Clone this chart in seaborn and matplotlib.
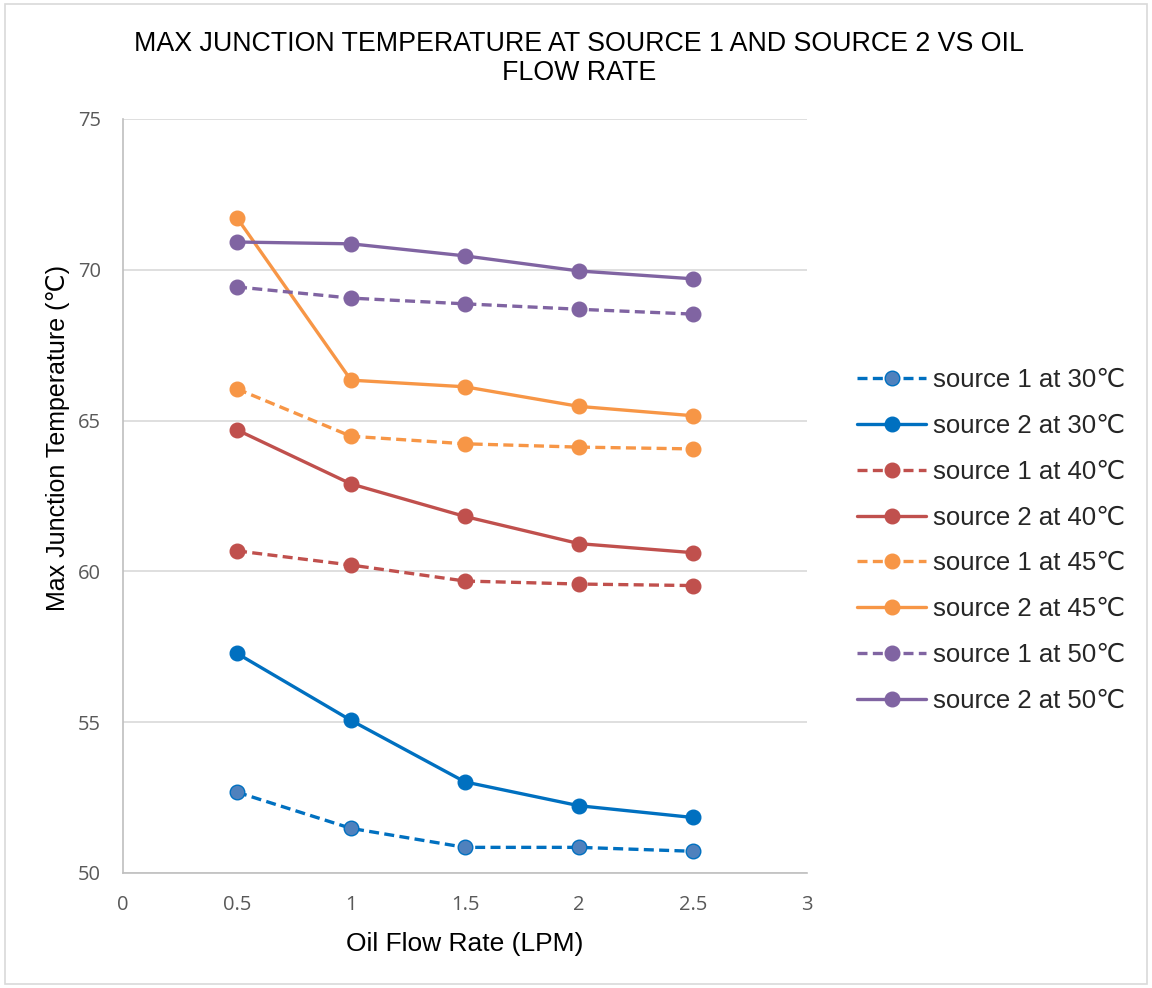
import matplotlib
matplotlib.use("Agg")
import matplotlib.pyplot as plt
import seaborn as sns
import pandas as pd
from matplotlib.patches import Rectangle

flow_rate = [0.5, 1, 1.5, 2, 2.5]

s1_30 = [52.68, 51.48, 50.85, 50.85, 50.72]
s2_30 = [57.28, 55.06, 53.02, 52.23, 51.84]
s1_40 = [60.68, 60.21, 59.68, 59.58, 59.53]
s2_40 = [64.69, 62.90, 61.82, 60.92, 60.62]
s1_45 = [66.05, 64.48, 64.23, 64.12, 64.06]
s2_45 = [71.72, 66.34, 66.12, 65.47, 65.16]
s1_50 = [69.43, 69.06, 68.87, 68.69, 68.53]
s2_50 = [70.92, 70.86, 70.46, 69.96, 69.70]

series_names = [
    "source 1 at 30℃", "source 2 at 30℃",
    "source 1 at 40℃", "source 2 at 40℃",
    "source 1 at 45℃", "source 2 at 45℃",
    "source 1 at 50℃", "source 2 at 50℃",
]
series_values = [s1_30, s2_30, s1_40, s2_40, s1_45, s2_45, s1_50, s2_50]

colors = ["#0070C0", "#0070C0", "#C0504D", "#C0504D",
          "#F79646", "#F79646", "#8064A2", "#8064A2"]
face_colors = ["#4F81BD", "#0070C0", "#C0504D", "#C0504D",
               "#F79646", "#F79646", "#8064A2", "#8064A2"]

x_ticks = [0, 0.5, 1, 1.5, 2, 2.5, 3]
x_tick_labels = ["0", "0.5", "1", "1.5", "2", "2.5", "3"]
y_ticks = [50, 55, 60, 65, 70, 75]

sns.set_theme(style="white")
plt.rcParams["font.family"] = ["Liberation Sans", "DejaVu Sans"]

fig = plt.figure(figsize=(11.52, 9.88), dpi=100)
ax = fig.add_axes([0.1068, 0.1164, 0.7005 - 0.1068, 0.8796 - 0.1164])

for name, vals, c, fc in zip(series_names, series_values, colors, face_colors):
    df = pd.DataFrame({"flow": flow_rate, "temp": vals})
    dashed = name.startswith("source 1")
    sns.lineplot(data=df, x="flow", y="temp", ax=ax, color=c,
                 linewidth=2.4, linestyle=(0, (3, 1.6)) if dashed else "-",
                 marker="o", markersize=10.5, markerfacecolor=fc,
                 markeredgecolor=c, markeredgewidth=1.0, label=name)

ax.set_xlim(0, 3)
ax.set_ylim(50, 75)
ax.set_xticks(x_ticks)
ax.set_xticklabels(x_tick_labels)
ax.set_yticks(y_ticks)
ax.tick_params(axis="both", labelsize=14.5, colors="#595959", length=0, pad=16)
for lbl in ax.get_xticklabels() + ax.get_yticklabels():
    lbl.set_fontfamily(["Open Sans", "DejaVu Sans"])
ax.yaxis.grid(True, color="#D9D9D9", linewidth=1.2)
ax.xaxis.grid(False)
for side in ["top", "right"]:
    ax.spines[side].set_visible(False)
for side in ["left", "bottom"]:
    ax.spines[side].set_color("#BFBFBF")
    ax.spines[side].set_linewidth(1.2)

ax.set_xlabel("Oil Flow Rate (LPM)", fontsize=19, color="black", labelpad=12)
ax.set_ylabel("Max Junction Temperature (℃)", fontsize=18, color="black")
ax.yaxis.set_label_coords(-0.078, 0.577)

fig.text(0.503, 0.969, "MAX JUNCTION TEMPERATURE AT SOURCE 1 AND SOURCE 2 VS OIL\nFLOW RATE",
         ha="center", va="top", fontsize=19.3, color="black", linespacing=1.15)

leg = ax.legend(loc="center left", bbox_to_anchor=(1.04, 0.441), frameon=False,
                fontsize=18.5, handlelength=2.65, labelspacing=0.85, handletextpad=0.3)

fig.patches.append(Rectangle((0.004, 0.004), 0.992, 0.992, transform=fig.transFigure,
                             fill=False, edgecolor="#D9D9D9", linewidth=1.2))

fig.savefig("out.png", dpi=100)
